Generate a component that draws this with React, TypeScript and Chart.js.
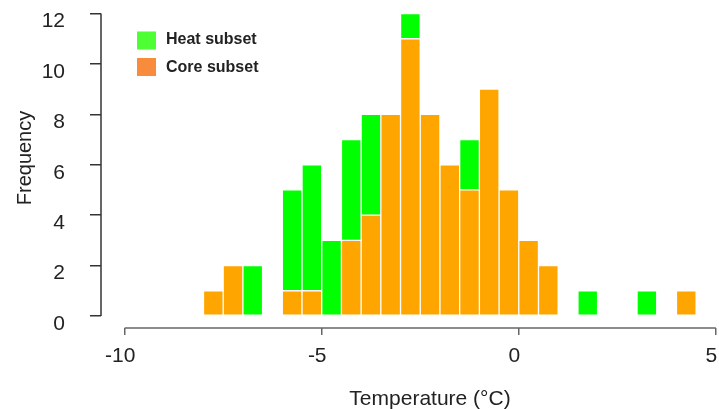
import React, { useEffect, useRef } from 'react';
import { Chart, registerables } from 'chart.js';

Chart.register(...registerables);

// Histogram bins (width 0.5 °C), identified by their centres
const binCenters = [
  -7.75, -7.25, -6.75, -6.25, -5.75, -5.25, -4.75, -4.25, -3.75, -3.25,
  -2.75, -2.25, -1.75, -1.25, -0.75, -0.25, 0.25, 0.75, 1.25, 1.75,
  2.25, 2.75, 3.25, 3.75, 4.25,
];
// Core subset counts (orange, bottom of stack)
const coreCounts = [1, 2, 0, 0, 1, 1, 0, 3, 4, 8, 11, 8, 6, 5, 9, 5, 3, 2, 0, 0, 0, 0, 0, 0, 1];
// Heat subset counts (green, stacked above core)
const heatCounts = [0, 0, 2, 0, 4, 5, 3, 4, 4, 0, 1, 0, 0, 2, 0, 0, 0, 0, 0, 1, 0, 0, 1, 0, 0];

const xTicks = [-10, -5, 0, 5];
const yTicks = [0, 2, 4, 6, 8, 10, 12];
const legendLabels = ['Heat subset', 'Core subset'];
const xTitle = 'Temperature (°C)';
const yTitle = 'Frequency';

const FONT = '"Liberation Sans", Arial, Helvetica, sans-serif';
const LEGEND_COLORS: Record<string, string> = {
  'Heat subset': '#4dff33',
  'Core subset': '#f98c3c',
};

const decorPlugin = {
  id: 'decor',
  afterDraw(chart: any) {
    const { ctx, chartArea } = chart;
    const xs = chart.scales.x;
    const ys = chart.scales.y;
    ctx.save();
    // R-style axis lines spanning only the tick range
    ctx.lineWidth = 1.5;
    ctx.strokeStyle = '#333';
    ctx.beginPath();
    ctx.moveTo(chartArea.left, ys.getPixelForValue(yTicks[yTicks.length - 1]));
    ctx.lineTo(chartArea.left, ys.getPixelForValue(yTicks[0]));
    ctx.stroke();
    ctx.strokeStyle = '#666';
    ctx.beginPath();
    ctx.moveTo(xs.getPixelForValue(xTicks[0]), chartArea.bottom);
    ctx.lineTo(xs.getPixelForValue(xTicks[xTicks.length - 1]), chartArea.bottom);
    ctx.stroke();

    // Axis titles
    ctx.fillStyle = '#222';
    ctx.font = `21px ${FONT}`;
    ctx.textAlign = 'center';
    ctx.textBaseline = 'alphabetic';
    ctx.fillText(xTitle, 430, 405);
    ctx.save();
    ctx.translate(31, 158);
    ctx.rotate(-Math.PI / 2);
    ctx.font = `20px ${FONT}`;
    ctx.fillText(yTitle, 0, 0);
    ctx.restore();

    // Legend
    const rows = [
      { label: legendLabels[0], boxY: 31.5, textY: 40 },
      { label: legendLabels[1], boxY: 58, textY: 67.5 },
    ];
    ctx.font = `bold 16px ${FONT}`;
    ctx.textAlign = 'left';
    ctx.textBaseline = 'middle';
    rows.forEach((r) => {
      ctx.fillStyle = LEGEND_COLORS[r.label];
      ctx.fillRect(137, r.boxY, 19, 18);
      ctx.fillStyle = '#222';
      ctx.fillText(r.label, 166, r.textY);
    });
    ctx.restore();
  },
};

export default function App() {
  const canvasRef = useRef<HTMLCanvasElement | null>(null);

  useEffect(() => {
    if (!canvasRef.current) return;
    const chart = new Chart(canvasRef.current, {
      type: 'bar',
      data: {
        datasets: [
          {
            label: legendLabels[1],
            data: binCenters.map((c, i) => ({ x: c, y: coreCounts[i] })),
            backgroundColor: '#ffa500',
            borderColor: 'rgba(255,255,255,0.9)',
            borderWidth: 1,
            borderSkipped: false,
            barPercentage: 1,
            categoryPercentage: 1,
          },
          {
            label: legendLabels[0],
            data: binCenters.map((c, i) => ({ x: c, y: heatCounts[i] })),
            backgroundColor: '#00ff00',
            borderColor: 'rgba(255,255,255,0.9)',
            borderWidth: 1,
            borderSkipped: false,
            barPercentage: 1,
            categoryPercentage: 1,
          },
        ],
      } as any,
      options: {
        responsive: false,
        animation: false,
        events: [],
        layout: { padding: { left: 0, right: 0, top: 1.5, bottom: 0 } },
        plugins: {
          legend: { display: false },
          tooltip: { enabled: false },
        },
        scales: {
          x: {
            type: 'linear',
            stacked: true,
            offset: false,
            min: -10.6,
            max: 5.08,
            border: { display: false },
            grid: {
              offset: false,
              drawOnChartArea: false,
              drawTicks: true,
              tickLength: 7,
              color: '#666',
              lineWidth: 1.5,
            },
            ticks: {
              autoSkip: false,
              maxRotation: 0,
              padding: 9,
              labelOffset: -4.5,
              color: '#222',
              font: { family: FONT, size: 21 },
            },
            afterBuildTicks: (scale: any) => {
              scale.ticks = xTicks.map((v) => ({ value: v }));
            },
            afterFit: (scale: any) => {
              scale.height = 81;
              scale.paddingLeft = 0;
              scale.paddingRight = 0;
            },
          },
          y: {
            type: 'linear',
            stacked: true,
            min: -0.48,
            max: 12.48,
            border: { display: false },
            grid: {
              drawOnChartArea: false,
              drawTicks: true,
              tickLength: 11,
              color: '#333',
              lineWidth: 1.5,
            },
            ticks: {
              autoSkip: false,
              padding: 25,
              labelOffset: 8,
              color: '#222',
              font: { family: FONT, size: 21 },
            },
            afterBuildTicks: (scale: any) => {
              scale.ticks = yTicks.map((v) => ({ value: v }));
            },
            afterFit: (scale: any) => {
              scale.width = 101;
              scale.paddingTop = 0;
              scale.paddingBottom = 0;
            },
          },
        },
      } as any,
      plugins: [decorPlugin],
    });
    return () => chart.destroy();
  }, []);

  return (
    <div style={{ position: 'fixed', left: 0, top: 0, width: 719, height: 409, background: '#fff' }}>
      <canvas ref={canvasRef} width={719} height={409} style={{ display: 'block' }} />
    </div>
  );
}
